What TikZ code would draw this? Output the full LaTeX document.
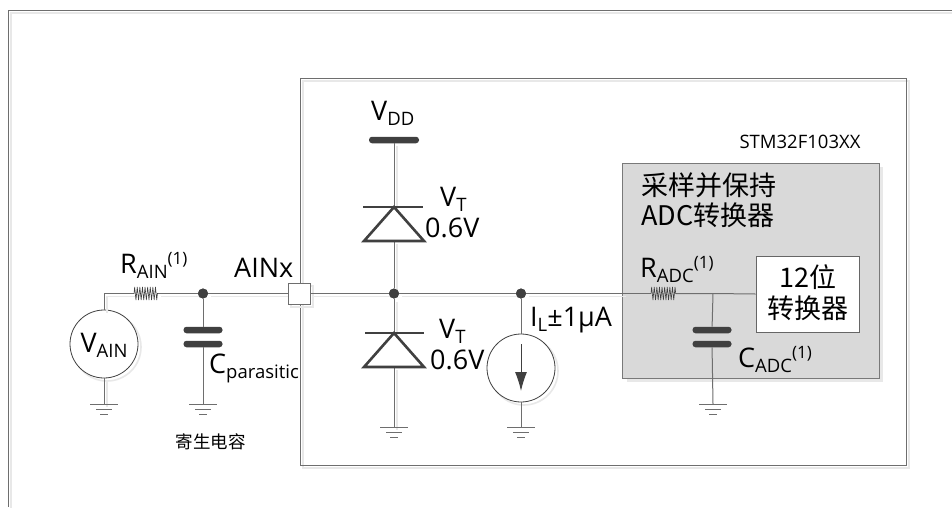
\documentclass[tikz,border=0pt]{standalone}
\usepackage{fontspec}
\setmainfont{Open Sans}
\newfontfamily\cjk{Noto Sans CJK SC}
\usetikzlibrary{arrows.meta,decorations.pathmorphing}

\definecolor{wiregray}{HTML}{6E6E6E}
\definecolor{darkgray}{HTML}{404040}
\definecolor{shadegray}{HTML}{E8E8E8}
\definecolor{adcgray}{HTML}{D9D9D9}

\newcommand{\lowtxt}[1]{\raisebox{-.2em}{\fontsize{18.5}{19}\selectfont #1}}
\newcommand{\uptxt}[1]{\raisebox{.3em}{\fontsize{17}{17}\selectfont #1}}

\tikzset{
  shaded/.style={preaction={draw=shadegray,line width=1.6pt,transform canvas={shift={(3pt,-3pt)}}}},
  wire/.style={draw=wiregray,line width=1pt},
  wireout/.style={wire,shaded},
  dot/.style={circle,fill=darkgray,inner sep=0pt,minimum size=10pt},
  plate/.style={rectangle,rounded corners=3pt,fill=darkgray,inner sep=0pt,minimum width=39pt,minimum height=6.5pt},
  source/.style={circle,draw=darkgray,line width=.8pt,fill=white,shaded,inner sep=0pt,minimum size=68pt},
  lbl/.style={anchor=base west,inner sep=0pt,font=\fontsize{27}{30}\selectfont},
  cjklbl/.style={inner sep=0pt,font=\cjk\fontsize{27}{30}\selectfont},
  res/.style={draw=darkgray,line width=.6pt,decorate,decoration={zigzag,segment length=2.6pt,amplitude=6.5pt}},
  diode/.style={draw=darkgray,line width=2.6pt,line join=miter},
  gnd/.pic={
    \draw[wiregray,line width=1pt] (-14,0) -- (14,0);
    \draw[wiregray,line width=1pt] (-8,5) -- (8,5);
    \draw[wiregray,line width=1pt] (-4,10) -- (4,10);
  }
}

\begin{document}
\begin{tikzpicture}[x=1pt,y=-1pt]
\useasboundingbox (0,0) rectangle (952,507);
\fill[white] (0,0) rectangle (952,507);

% frames
\draw[wiregray,line width=1pt,shaded] (8,507) -- (8,10) -- (952,10);
\draw[wiregray,line width=1pt,shaded] (300,78) rectangle (906,465);

% adc block
\draw[draw=darkgray!70,fill=adcgray,line width=1pt,preaction={fill=shadegray,draw=none,transform canvas={shift={(4pt,-4pt)}}}] (622.5,163) rectangle (879,378);

\coordinate (corner) at (104,293.5);
\coordinate (resAa) at (134,293.5);
\coordinate (resAb) at (158,293.5);
\coordinate (resBa) at (651,293.5);
\coordinate (resBb) at (676,293.5);
\coordinate (tee) at (713,293.5);
\coordinate (gndA) at (104,404);
\coordinate (gndB) at (203,404);
\coordinate (gndC) at (394,427);
\coordinate (gndD) at (521,427);
\coordinate (gndE) at (713,404);
\coordinate (diodeAtop) at (394,207);
\coordinate (diodeAbot) at (394,241);
\coordinate (diodeBtop) at (394,333);
\coordinate (diodeBbot) at (394,367);
\coordinate (arrowA) at (521,344);
\coordinate (arrowB) at (521,391);

\node[source] (vain) at (104,344) {};
\node[source] (isrc) at (521,368) {};
\node[dot] (dotA) at (203,293.5) {};
\node[dot] (dotB) at (394,293.5) {};
\node[dot] (dotC) at (521,293.5) {};
\node[plate] (capAa) at (203,330) {};
\node[plate] (capAb) at (203,344) {};
\node[plate] (capBa) at (712,330) {};
\node[plate] (capBb) at (712,344) {};
\node[rectangle,rounded corners=3pt,fill=darkgray,inner sep=0pt,minimum width=50pt,minimum height=6.5pt] (vdd) at (394,140) {};
\node[draw=wiregray,line width=1pt,fill=white,shaded,inner sep=0pt,minimum width=22pt,minimum height=21pt] (ainx) at (299,293.5) {};
\node[draw=darkgray!80,line width=.8pt,fill=white,inner sep=0pt,minimum width=103pt,minimum height=76pt] (conv) at (807.5,294) {};

% wires
\draw[wireout] (vain.north) -- (corner) -- (resAa);
\draw[wireout] (resAb) -- (dotA) -- (ainx);
\draw[wireout] (ainx) -- (dotB) -- (dotC) -- (622.5,293.5);
\draw[wire] (622.5,293.5) -- (resBa);
\draw[wire] (resBb) -- (tee) -- (conv.west);
\draw[wireout] (vain.south) -- (gndA);
\draw[wire] (dotA) -- (capAa);
\draw[wire] (capAb) -- (gndB);
\draw[wireout] (vdd) -- (diodeAtop);
\draw[wireout] (diodeAbot) -- (dotB);
\draw[wireout] (dotB) -- (diodeBtop);
\draw[wireout] (diodeBbot) -- (gndC);
\draw[wire] (dotC) -- (isrc.north);
\draw[wire] (isrc.south) -- (gndD);
\draw[wire] (tee) -- (capBa);
\draw[wire] (capBb) -- (gndE);

% redraw on top of the wires
\node[draw=wiregray,line width=1pt,fill=white,inner sep=0pt,minimum width=22pt,minimum height=21pt] at (ainx) {};
\node[dot] at (dotA) {};
\node[dot] at (dotB) {};
\node[dot] at (dotC) {};

\draw[res] (resAa) -- (resAb);
\draw[res] (resBa) -- (resBb);

\pic at (gndA) {gnd};
\pic at (gndB) {gnd};
\pic at (gndC) {gnd};
\pic at (gndD) {gnd};
\pic at (gndE) {gnd};

% diodes
\draw[diode] (363,207) -- (423,207);
\draw[diode] (diodeAtop) -- (424,241) -- (364,241) -- cycle;
\draw[diode] (365,333) -- (424,333);
\draw[diode] (diodeBtop) -- (424,367) -- (364,367) -- cycle;

\draw[draw=darkgray,line width=1pt,-{Latex[length=19pt,width=12pt]}] (arrowA) -- (arrowB);

% labels
\node[lbl] (lblRain) at (120,273) {R\lowtxt{AIN}\uptxt{(1)}};
\node[lbl] (lblAinx) at (234,277) {AINx};
\node[lbl,anchor=base] (lblVain) at (104,352) {V\lowtxt{AIN}};
\node[lbl] (lblCpar) at (209,373) {C\lowtxt{parasitic}};
\node[lbl] (lblVdd) at (371,120) {V\lowtxt{DD}};
\node[lbl] (lblVa) at (440,206) {V\lowtxt{T}};
\node[lbl] (lblVolta) at (425,237) {0.6V};
\node[lbl] (lblVb) at (439,338) {V\lowtxt{T}};
\node[lbl] (lblVoltb) at (430,369) {0.6V};
\node[lbl] (lblIl) at (530,326) {I\lowtxt{L}±1µA};
\node[lbl] (lblRadc) at (640,277) {R\lowtxt{ADC}\uptxt{(1)}};
\node[lbl] (lblCadc) at (738,367) {C\lowtxt{ADC}\uptxt{(1)}};
\node[inner sep=0pt,font=\fontsize{18.5}{20}\selectfont] (lblChip) at (800,142) {STM32F103XX};
\node[inner sep=0pt,font=\cjk\fontsize{17.5}{20}\selectfont] (lblPar) at (210.5,442) {寄生电容};
\node[cjklbl,anchor=west] (lblSample) at (641,185) {采样并保持};
\node[cjklbl,anchor=west] (lblAdc) at (641,215) {ADC转换器};
\node[cjklbl] (lblBits) at (808,277) {12位};
\node[cjklbl] (lblConv) at (808,308) {转换器};

\end{tikzpicture}
\end{document}
